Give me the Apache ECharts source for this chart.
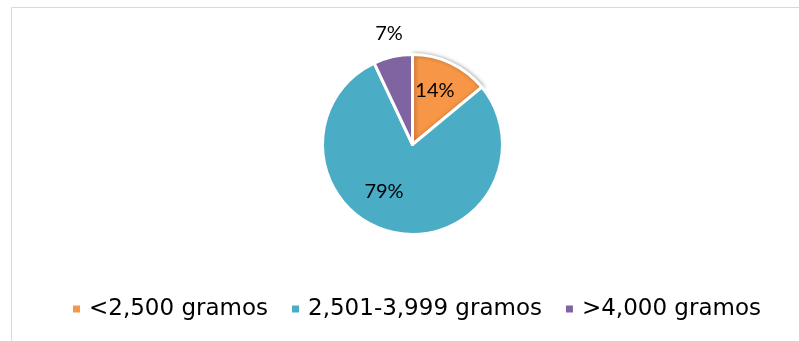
<!DOCTYPE html>
<html><head><meta charset="utf-8">
<script src="https://cdn.jsdelivr.net/npm/echarts@6/dist/echarts.min.js"></script>
<style>html,body{margin:0;padding:0;background:#fff}#c{width:799px;height:341px}</style>
</head><body><div id="c"></div>
<script>
const categories = ['<2,500 gramos', '2,501-3,999 gramos', '>4,000 gramos'];
const values = [14, 79, 7];
const colors = ['#F79646', '#4BACC6', '#8064A2'];
const labelOffsets = [[2, -11], [-18, 0], [-13, -64]];

const chart = echarts.init(document.getElementById('c'), null, {renderer: 'canvas'});
chart.setOption({
  animation: false,
  graphic: [{
    type: 'rect', silent: true,
    shape: {x: 11.5, y: 7.5, width: 820, height: 360},
    style: {fill: 'none', stroke: '#d9d9d9', lineWidth: 1}
  }],
  legend: {
    left: 68, top: 292,
    itemWidth: 7, itemHeight: 7, itemGap: 24,
    icon: 'rect',
    itemStyle: {borderWidth: 0},
    textStyle: {fontFamily: 'DejaVu Sans', fontSize: 23, color: '#000', padding: [0, 0, 0, 4], lineHeight: 24},
    data: categories
  },
  series: [{
    type: 'pie',
    center: [412.5, 144.5],
    radius: 90,
    startAngle: 90,
    clockwise: true,
    avoidLabelOverlap: false,
    itemStyle: {borderColor: '#fff', borderWidth: 3},
    label: {
      position: 'inside',
      fontFamily: 'Lato', fontSize: 20, color: '#000',
      formatter: p => p.value + '%'
    },
    labelLine: {show: false},
    data: categories.map((c, i) => ({
      name: c, value: values[i],
      itemStyle: Object.assign({color: colors[i]}, i === 0 ? {shadowBlur: 4, shadowOffsetX: 1, shadowColor: 'rgba(0,0,0,0.3)'} : {}),
      label: {offset: labelOffsets[i]}
    }))
  }]
});
</script></body></html>
